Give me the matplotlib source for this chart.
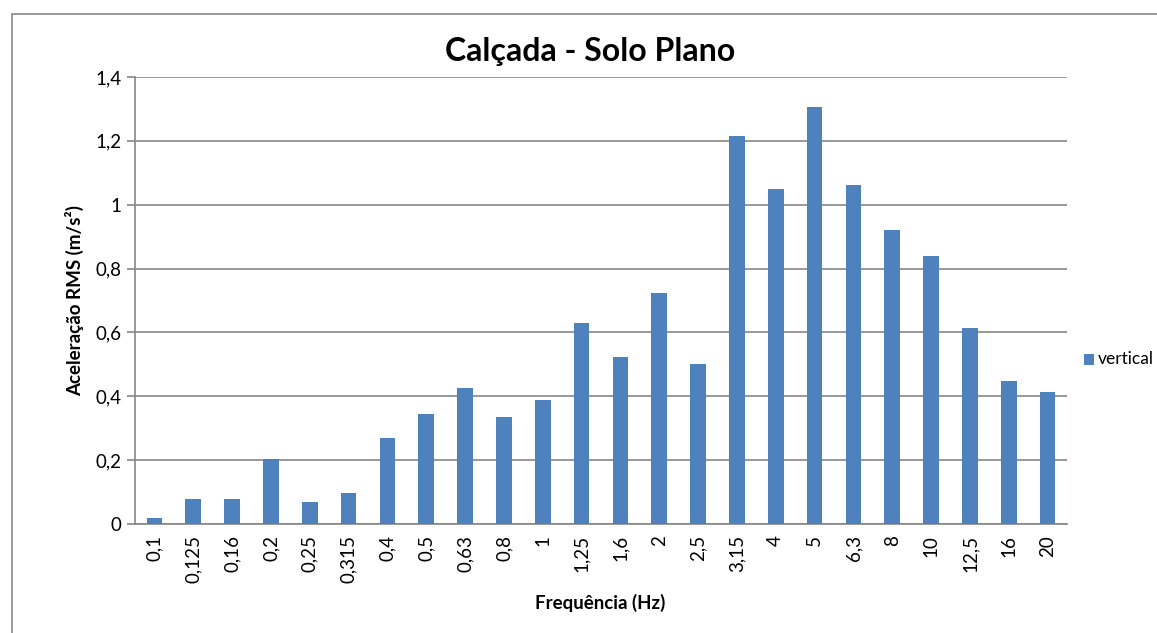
import matplotlib
matplotlib.use("Agg")
import matplotlib.pyplot as plt
from matplotlib.patches import Rectangle
import numpy as np

freqs = ["0,1", "0,125", "0,16", "0,2", "0,25", "0,315", "0,4", "0,5", "0,63", "0,8",
         "1", "1,25", "1,6", "2", "2,5", "3,15", "4", "5", "6,3", "8", "10", "12,5", "16", "20"]
vertical = [0.019, 0.078, 0.078, 0.204, 0.069, 0.097, 0.269, 0.345, 0.426, 0.335,
            0.388, 0.630, 0.523, 0.723, 0.501, 1.215, 1.049, 1.306, 1.062, 0.921,
            0.839, 0.614, 0.448, 0.413]
yticks = [0, 0.2, 0.4, 0.6, 0.8, 1.0, 1.2, 1.4]
ytick_labels = ["0", "0,2", "0,4", "0,6", "0,8", "1", "1,2", "1,4"]

plt.rcParams["font.family"] = ["Lato", "DejaVu Sans"]

W, H = 1157, 633
fig = plt.figure(figsize=(W / 100, H / 100), dpi=100)
fig.patch.set_facecolor("white")

# chart area border (runs off the right and bottom edges)
fig.patches.append(Rectangle((12 / W, -0.1), 1.2, 1 - 14 / H + 0.1, transform=fig.transFigure,
                             fill=False, edgecolor="#878787", linewidth=1.2))

ax = fig.add_axes([135 / W, 1 - 524 / H, (1067 - 135) / W, (524 - 77) / H])
x = np.arange(len(freqs))
ax.bar(x, vertical, width=0.4, color="#4F81BD", label="vertical", zorder=3)

ax.set_xlim(-0.5, len(freqs) - 0.5)
ax.set_ylim(0, 1.4)
ax.set_yticks(yticks)
ax.set_yticklabels(ytick_labels, fontsize=13.5)
ax.set_xticks(x)
ax.set_xticklabels(freqs, rotation=90, fontsize=13.5)
ax.tick_params(axis="x", length=0, pad=8)
ax.tick_params(axis="y", length=6, width=1.2, color="#868686", pad=4)
ax.yaxis.grid(True, color="#868686", linewidth=1.2, zorder=0)

for side in ["top", "right"]:
    ax.spines[side].set_visible(False)
for side in ["left", "bottom"]:
    ax.spines[side].set_color("#868686")
    ax.spines[side].set_linewidth(1.2)

fig.text(590 / W, 1 - 52 / H, "Calçada - Solo Plano", fontsize=23, fontweight="bold",
         ha="center", va="center")
fig.text(600 / W, 1 - 603 / H, "Frequência (Hz)", fontsize=13.5, fontweight="bold",
         ha="center", va="center")
fig.text(75 / W, 1 - 300 / H, "Aceleração RMS (m/s²)", fontsize=13.5, fontweight="bold",
         ha="center", va="center", rotation=90)

# legend squeezed against the right edge
fig.patches.append(Rectangle((1084 / W, 1 - 365 / H), 10 / W, 11 / H, transform=fig.transFigure,
                             facecolor="#4F81BD", edgecolor="none"))
fig.text(1098 / W, 1 - 359 / H, "vertical", fontsize=12.5, ha="left", va="center")

fig.savefig("out.png", dpi=100)
